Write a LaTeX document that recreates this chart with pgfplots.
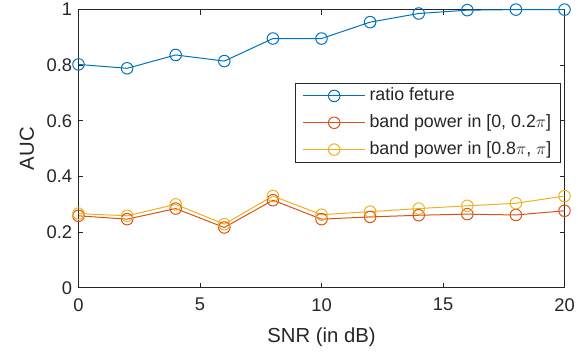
\documentclass[border=0pt]{standalone}
\usepackage{pgfplots}
\pgfplotsset{compat=1.18}
\usepackage{fontspec}
\setmainfont{Liberation Sans}
\definecolor{mblue}{rgb}{0,0.447,0.741}
\definecolor{morange}{rgb}{0.85,0.325,0.098}
\definecolor{myellow}{rgb}{0.929,0.694,0.125}
\definecolor{axgray}{rgb}{0.15,0.15,0.15}
\begin{document}
\begin{tikzpicture}
\begin{axis}[
  scale only axis,
  width=489bp, height=280bp,
  xmin=0, xmax=20, ymin=0, ymax=1,
  xtick={0,5,10,15,20},
  ytick={0,0.2,0.4,0.6,0.8,1},
  tick align=inside,
  major tick length=5bp,
  axis line style={axgray, line width=0.9bp},
  every tick/.style={axgray, line width=0.9bp},
  tick label style={font=\fontsize{18.5}{20}\selectfont, text=axgray},
  /pgf/number format/assume math mode=true,
  yticklabel style={/pgf/number format/fixed, xshift=-3bp},
  xticklabel style={yshift=-7bp},
  xlabel={SNR (in dB)},
  ylabel={AUC},
  label style={font=\fontsize{20.5}{22}\selectfont, text=axgray},
  xlabel style={at={(axis description cs:0.5,-0.178)}, anchor=center},
  ylabel style={at={(axis description cs:-0.106,0.5)}, anchor=center},
  legend style={
    at={(0.992,0.736)}, anchor=north east,
    draw=axgray, line width=0.9bp, fill=white,
    font=\fontsize{18}{20}\selectfont, text=axgray,
    inner xsep=8bp, inner ysep=3bp,
    nodes={inner sep=1bp, text height=13bp, text depth=4bp},
    row sep=8bp, column sep=3bp,
  },
  legend cell align=left,
  legend image code/.code={
    \draw[mark repeat=2, mark phase=2] plot coordinates {(0bp,0bp) (31bp,0bp) (62bp,0bp)};
  },
  every axis plot/.append style={line width=1bp, mark=o, mark size=5.8bp, mark options={solid, line width=1bp}},
]
\addplot[color=mblue] coordinates {
(0,0.803) (2,0.789) (4,0.837) (6,0.815) (8,0.896) (10,0.896) (12,0.955) (14,0.986) (16,0.998) (18,1.0) (20,1.0)};
\addlegendentry{ratio feture}
\addplot[color=morange] coordinates {
(0,0.259) (2,0.247) (4,0.285) (6,0.217) (8,0.315) (10,0.247) (12,0.255) (14,0.261) (16,0.265) (18,0.262) (20,0.277)};
\addlegendentry{band power in [0, 0.2$\pi$]}
\addplot[color=myellow] coordinates {
(0,0.267) (2,0.259) (4,0.300) (6,0.229) (8,0.330) (10,0.263) (12,0.274) (14,0.285) (16,0.295) (18,0.304) (20,0.330)};
\addlegendentry{band power in [0.8$\pi$, $\pi$]}
\end{axis}
\path ([shift={(-79bp,-69bp)}]current axis.south west) rectangle ([shift={(10bp,6bp)}]current axis.north east);
\end{tikzpicture}
\end{document}
